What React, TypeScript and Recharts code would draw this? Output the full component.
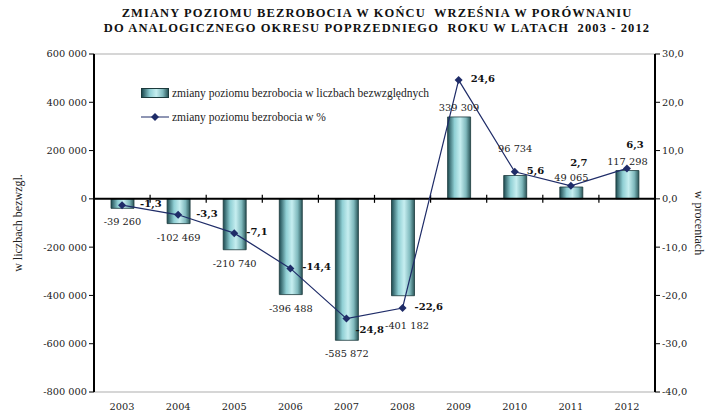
import React from 'react';
import {
  ComposedChart,
  Bar,
  Line,
  XAxis,
  YAxis,
  ReferenceLine,
  LabelList,
} from 'recharts';

const years = ['2003', '2004', '2005', '2006', '2007', '2008', '2009', '2010', '2011', '2012'];
const absChange = [-39260, -102469, -210740, -396488, -585872, -401182, 339309, 96734, 49065, 117298];
const pctChange = [-1.3, -3.3, -7.1, -14.4, -24.8, -22.6, 24.6, 5.6, 2.7, 6.3];
const leftTicks = [600000, 400000, 200000, 0, -200000, -400000, -600000, -800000];
const rightTicks = [30, 20, 10, 0, -10, -20, -30, -40];
// label placement hints (kept apart from the values)
const pctLabelSide = ['right', 'right', 'right', 'right', 'below', 'right', 'right', 'right', 'top', 'top'];
const barLabelSide = ['near', 'near', 'near', 'near', 'near', 'far', 'near', 'far', 'near', 'near'];

const data = years.map((year, i) => ({ year, abs: absChange[i], pct: pctChange[i] }));

const NUM_FONT = '"DejaVu Serif", serif';
const TEXT_FONT = '"Liberation Serif", serif';
const LINE_COLOR = '#1f2c68';

const fmtThousands = (v: number) => {
  const s = Math.abs(Math.round(v)).toString().replace(/\B(?=(\d{3})+(?!\d))/g, ' ');
  return (v < 0 ? '-' : '') + s;
};
const fmtPct = (v: number) => v.toFixed(1).replace('.', ',');

const Diamond = (props: any) => {
  const { cx, cy } = props;
  if (cx == null || cy == null) return null;
  const r = 4;
  return (
    <polygon
      points={`${cx},${cy - r} ${cx + r},${cy} ${cx},${cy + r} ${cx - r},${cy}`}
      fill={LINE_COLOR}
    />
  );
};

const ZeroAxis = (props: any) => {
  const { x1, y1, x2 } = props;
  const n = years.length;
  const step = (x2 - x1) / n;
  const ticks = [];
  for (let i = 1; i < n; i++) {
    const x = x1 + step * i;
    ticks.push(<line key={i} x1={x} x2={x} y1={y1 - 4} y2={y1 + 4} stroke="#000" strokeWidth={1.2} />);
  }
  return (
    <g>
      <line x1={x1} x2={x2} y1={y1} y2={y1} stroke="#000" strokeWidth={2} />
      {ticks}
    </g>
  );
};

const BarValueLabel = (props: any) => {
  const { x, y, width, height, value, index } = props;
  const top = Math.min(y, y + height);
  const bottom = Math.max(y, y + height);
  const far = barLabelSide[index] === 'far';
  const ty = value < 0 ? bottom + (far ? 33 : 17) : top - (far ? 24 : 6);
  return (
    <text x={x + width / 2 + (far && value < 0 ? 4 : 0)} y={ty} textAnchor="middle" fontFamily={NUM_FONT} fontSize={9.8} fill="#222">
      {fmtThousands(value)}
    </text>
  );
};

const PctLabel = (props: any) => {
  const { x, y, value, index } = props;
  const side = pctLabelSide[index];
  let tx = x + (index < 2 ? 18 : 12);
  let ty = y + 2;
  let anchor: 'start' | 'middle' = 'start';
  if (side === 'top') {
    tx = x + 8;
    ty = y - 20;
    anchor = 'middle';
  } else if (side === 'below') {
    tx = x + 9;
    ty = y + 14;
  }
  return (
    <text x={tx} y={ty} textAnchor={anchor} fontFamily={NUM_FONT} fontSize={10} fontWeight="bold" fill="#111">
      {fmtPct(value)}
    </text>
  );
};

const LegendBox = () => (
  <div
    style={{
      position: 'absolute',
      left: 141,
      top: 81,
      fontFamily: TEXT_FONT,
      fontSize: 11.5,
      color: '#222',
      lineHeight: '24px',
      zIndex: 2,
    }}
  >
    <div style={{ display: 'flex', alignItems: 'center' }}>
      <span
        style={{
          display: 'inline-block',
          width: 26,
          height: 8,
          marginRight: 3,
          border: '1px solid #1c3a3c',
          background: 'linear-gradient(to right, #1d4a50, #8fcfd4 30%, #c6eef0 55%, #7fb9bd 80%, #2a5558)',
        }}
      />
      zmiany poziomu bezrobocia w liczbach bezwzględnych
    </div>
    <div style={{ display: 'flex', alignItems: 'center' }}>
      <svg width={28} height={10} style={{ marginRight: 3 }}>
        <line x1={0} x2={28} y1={5} y2={5} stroke={LINE_COLOR} strokeWidth={1} />
        <polygon points="14,1 18,5 14,9 10,5" fill={LINE_COLOR} />
      </svg>
      zmiany poziomu bezrobocia w %
    </div>
  </div>
);

const titleStyle: React.CSSProperties = {
  position: 'absolute',
  left: 0,
  width: 754,
  textAlign: 'center',
  fontFamily: TEXT_FONT,
  fontWeight: 'bold',
  fontSize: 12.5,
  letterSpacing: 1.1,
  whiteSpace: 'pre',
  color: '#111',
};

export default function App() {
  return (
    <div style={{ position: 'absolute', left: 0, top: 0, width: 717, height: 416, background: '#fff' }}>
      <div style={{ ...titleStyle, top: 6 }}>ZMIANY POZIOMU BEZROBOCIA W KOŃCU  WRZEŚNIA W PORÓWNANIU</div>
      <div style={{ ...titleStyle, top: 21 }}>DO ANALOGICZNEGO OKRESU POPRZEDNIEGO  ROKU W LATACH  2003 - 2012</div>
      <ComposedChart
        width={717}
        height={416}
        data={data}
        margin={{ top: 54, right: 0, bottom: 0, left: 0 }}
      >
        <defs>
          <linearGradient id="barGrad" x1="0" y1="0" x2="1" y2="0">
            <stop offset="0%" stopColor="#1d4a50" />
            <stop offset="30%" stopColor="#8fcfd4" />
            <stop offset="55%" stopColor="#c6eef0" />
            <stop offset="80%" stopColor="#7fb9bd" />
            <stop offset="100%" stopColor="#2a5558" />
          </linearGradient>
        </defs>
        <XAxis
          dataKey="year"
          height={24}
          axisLine={false}
          tickLine={false}
          tickMargin={5}
          interval={0}
          tick={{ fontFamily: NUM_FONT, fontSize: 9.8, fill: '#222' }}
        />
        <YAxis
          yAxisId="abs"
          width={94}
          domain={[-800000, 600000]}
          ticks={leftTicks}
          interval={0}
          tickFormatter={fmtThousands}
          axisLine={{ stroke: '#000', strokeWidth: 2 }}
          tickLine={{ stroke: '#000' }}
          tickSize={5}
          tick={{ fontFamily: NUM_FONT, fontSize: 9.8, fill: '#222' }}
          label={{
            value: 'w liczbach bezwzgl.',
            angle: -90,
            position: 'insideLeft',
            offset: 18,
            style: { textAnchor: 'middle', fontFamily: TEXT_FONT, fontSize: 12, fill: '#222' },
          }}
        />
        <YAxis
          yAxisId="pct"
          orientation="right"
          width={62}
          domain={[-40, 30]}
          ticks={rightTicks}
          interval={0}
          tickFormatter={fmtPct}
          axisLine={{ stroke: '#000', strokeWidth: 2 }}
          tickLine={{ stroke: '#000' }}
          tickSize={5}
          tick={{ fontFamily: NUM_FONT, fontSize: 9.8, fill: '#222' }}
          label={{
            value: 'w procentach',
            angle: 90,
            position: 'insideRight',
            offset: 18,
            style: { textAnchor: 'middle', fontFamily: TEXT_FONT, fontSize: 12, fill: '#222' },
          }}
        />
        <ReferenceLine yAxisId="abs" y={600000} stroke="#c8c8c8" strokeWidth={1.5} />
        <ReferenceLine yAxisId="abs" y={-800000} stroke="#c8c8c8" strokeWidth={1.5} />
        <Bar
          yAxisId="abs"
          dataKey="abs"
          barSize={23}
          fill="url(#barGrad)"
          stroke="#1c3a3c"
          strokeWidth={0.8}
          isAnimationActive={false}
        >
          <LabelList dataKey="abs" content={<BarValueLabel />} />
        </Bar>
        <ReferenceLine yAxisId="abs" y={0} shape={<ZeroAxis />} />
        <Line
          yAxisId="pct"
          dataKey="pct"
          type="linear"
          stroke={LINE_COLOR}
          strokeWidth={1.2}
          dot={<Diamond />}
          activeDot={false}
          isAnimationActive={false}
        >
          <LabelList dataKey="pct" content={<PctLabel />} />
        </Line>
      </ComposedChart>
      <LegendBox />
    </div>
  );
}
